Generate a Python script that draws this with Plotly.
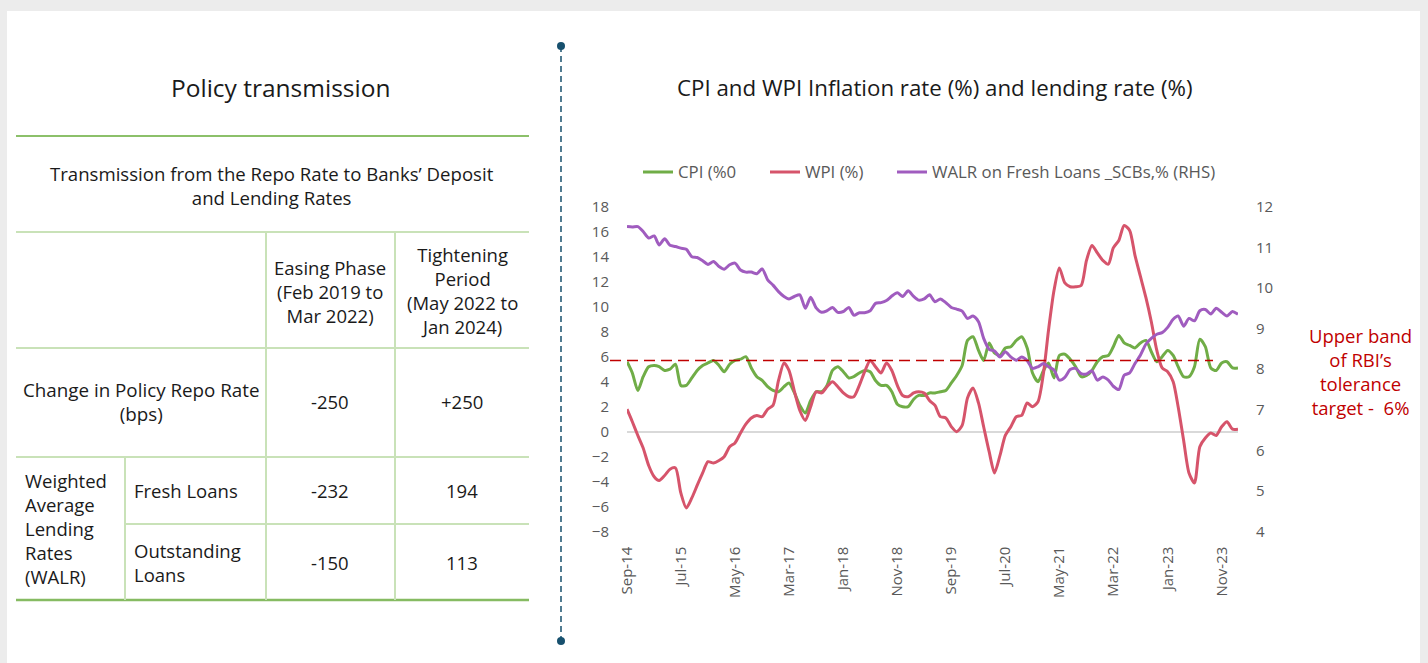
import pandas as pd
import plotly.graph_objects as go

W, H = 1428, 663

# ---------------- data ----------------
months = pd.date_range("2014-09-01", periods=114, freq="MS")

cpi = [5.6, 4.7, 3.3, 4.4, 5.2, 5.3, 5.2, 4.9, 5.0, 5.4,
       3.7, 3.7, 4.3, 4.9, 5.3, 5.5, 5.7, 5.3, 4.8, 5.4,
       5.7, 5.8, 6.0, 5.1, 4.4, 4.1, 3.6, 3.3, 3.2, 3.6,
       3.9, 3.1, 2.1, 1.5, 2.5, 3.2, 3.2, 3.7, 4.9, 5.2,
       4.8, 4.3, 4.4, 4.7, 4.9, 4.8, 4.1, 3.7, 3.7, 3.2,
       2.2, 2.0, 2.0, 2.6, 2.9, 2.9, 3.1, 3.1, 3.2, 3.3,
       3.9, 4.5, 5.3, 7.3, 7.6, 6.5, 5.7, 7.1, 6.3, 6.1,
       6.7, 6.8, 7.3, 7.6, 6.7, 4.7, 4.0, 4.9, 5.5, 4.3,
       6.1, 6.2, 5.8, 5.2, 4.4, 4.5, 4.9, 5.6, 6.0, 6.1,
       6.8, 7.7, 7.1, 6.9, 6.7, 7.1, 7.3, 6.4, 5.6, 6.0,
       6.5, 6.1, 5.2, 4.4, 4.4, 5.2, 7.4, 6.8, 5.1, 4.9,
       5.5, 5.6, 5.1, 5.1]

wpi = [1.8, 0.8, -0.3, -1.3, -2.7, -3.6, -3.9, -3.5, -3.0, -2.9,
       -4.9, -6.1, -5.3, -4.3, -3.3, -2.4, -2.5, -2.3, -2.0, -1.2,
       -0.9, -0.1, 0.6, 1.1, 1.3, 1.2, 1.8, 2.1, 4.1, 5.5,
       4.9, 3.2, 1.7, 0.9, 2.0, 3.2, 3.1, 3.6, 4.0, 3.6,
       3.1, 2.8, 2.8, 3.7, 4.8, 5.7, 5.2, 4.7, 5.5, 4.9,
       3.7, 2.9, 2.8, 3.1, 3.2, 3.1, 2.5, 2.1, 1.2, 1.1,
       0.4, 0.0, 0.5, 2.7, 3.5, 2.3, 0.4, -1.6, -3.3, -1.9,
       -0.3, 0.4, 1.2, 1.3, 2.3, 2.0, 2.4, 4.7, 8.1, 11.3,
       13.1, 11.9, 11.6, 11.6, 11.7, 13.7, 14.9, 14.3, 13.7, 13.4,
       14.7, 15.3, 16.5, 16.1, 14.1, 12.4, 10.7, 8.8, 6.5, 5.1,
       4.8, 4.0, 2.0, -0.7, -3.3, -4.1, -1.2, -0.5, -0.1, -0.3,
       0.4, 0.8, 0.2, 0.2]

walr = [11.51, 11.50, 11.51, 11.39, 11.23, 11.28, 11.06, 11.21, 11.05, 11.02,
        10.98, 10.95, 10.77, 10.75, 10.67, 10.58, 10.65, 10.53, 10.46, 10.57,
        10.61, 10.44, 10.39, 10.39, 10.35, 10.47, 10.20, 10.07, 9.91, 9.79,
        9.73, 9.79, 9.83, 9.50, 9.77, 9.51, 9.40, 9.44, 9.52, 9.40,
        9.42, 9.52, 9.33, 9.39, 9.39, 9.44, 9.62, 9.64, 9.69, 9.80,
        9.88, 9.79, 9.93, 9.79, 9.70, 9.73, 9.83, 9.66, 9.73, 9.64,
        9.52, 9.48, 9.43, 9.25, 9.31, 9.17, 8.76, 8.49, 8.45, 8.30,
        8.43, 8.30, 8.22, 8.30, 8.21, 8.02, 8.06, 8.14, 8.06, 7.98,
        7.73, 7.80, 7.99, 8.02, 7.89, 7.88, 7.96, 7.73, 7.81, 7.73,
        7.58, 7.50, 7.85, 7.91, 8.14, 8.35, 8.62, 8.76, 8.86, 8.90,
        9.03, 9.23, 9.31, 9.06, 9.25, 9.19, 9.44, 9.47, 9.36, 9.50,
        9.40, 9.31, 9.42, 9.35]

tick_labels = ["Sep-14", "Jul-15", "May-16", "Mar-17", "Jan-18", "Nov-18",
               "Sep-19", "Jul-20", "May-21", "Mar-22", "Jan-23", "Nov-23"]
threshold = 5.7

series_names = ["CPI (%0", "WPI (%)", "WALR on Fresh Loans _SCBs,% (RHS)"]

table_cols = ["Easing Phase<br>(Feb 2019 to<br>Mar 2022)",
              "Tightening<br>Period<br>(May 2022 to<br>Jan 2024)"]
repo_change = ["-250", "+250"]
fresh_loans = ["-232", "194"]
outstanding_loans = ["-150", "113"]

# ---------------- styling helpers ----------------
FONT = "Open Sans"
DARK = "#1a1a1a"
GREY = "#595959"
GREEN = "#70ad47"
RED = "#d6546b"
PURPLE = "#a05cbf"
TLINE = "#c9e2b8"


def px(x):
    return x / W


def py(y):
    return 1 - y / H


fig = go.Figure()
fig.add_trace(go.Scatter(x=months, y=cpi, name=series_names[0], mode="lines", legend="legend",
                         line=dict(color=GREEN, width=3, shape="spline", smoothing=0.7)))
fig.add_trace(go.Scatter(x=months, y=wpi, name=series_names[1], mode="lines", legend="legend2",
                         line=dict(color=RED, width=3, shape="spline", smoothing=0.7)))
fig.add_trace(go.Scatter(x=months, y=walr, name=series_names[2], mode="lines", yaxis="y2",
                         legend="legend3",
                         line=dict(color=PURPLE, width=3, shape="spline", smoothing=0.7)))

tickfont = dict(family=FONT, size=15, color=GREY)
legfont = dict(family=FONT, size=16.8, color=GREY)


def leg(x):
    return dict(orientation="h", x=px(x), y=py(172), xanchor="left", yanchor="middle",
                font=legfont, bgcolor="rgba(0,0,0,0)", itemwidth=30)


fig.update_layout(
    width=W, height=H,
    margin=dict(l=0, r=0, t=0, b=0, autoexpand=False),
    paper_bgcolor="#ececec",
    plot_bgcolor="rgba(0,0,0,0)",
    font=dict(family=FONT, color=DARK),
    xaxis=dict(domain=[px(627), px(1238)], type="date", automargin=False,
               range=[months[0], months[-1]],
               tickvals=list(months[::10]), ticktext=tick_labels,
               tickangle=-90, tickfont=tickfont, showgrid=False, showline=False,
               zeroline=False, ticks="outside", ticklen=8, tickcolor="rgba(0,0,0,0)"),
    yaxis=dict(domain=[py(531.7), py(206.7)], range=[-8, 18], dtick=2, automargin=False,
               tickfont=tickfont, showgrid=False, showline=False,
               zeroline=True, zerolinecolor="#d9d9d9", zerolinewidth=2,
               ticks="outside", ticklen=14, tickcolor="rgba(0,0,0,0)"),
    yaxis2=dict(domain=[py(531.7), py(206.7)], range=[4, 12], dtick=1, automargin=False,
                overlaying="y", side="right", anchor="x",
                tickfont=tickfont, showgrid=False, showline=False, zeroline=False,
                ticks="outside", ticklen=14, tickcolor="rgba(0,0,0,0)"),
    showlegend=True,
    legend=leg(638), legend2=leg(765), legend3=leg(892),
)

shapes = []
# card
shapes.append(dict(type="rect", xref="paper", yref="paper", x0=px(7), x1=px(1420),
                   y0=py(680), y1=py(11), fillcolor="white", line=dict(width=0), layer="below"))
# left panel title underline
shapes.append(dict(type="line", xref="paper", yref="paper", x0=px(16), x1=px(529),
                   y0=py(136), y1=py(136), line=dict(color="#8cc06a", width=2)))
# table lines
for yy in [232, 348, 457]:
    shapes.append(dict(type="line", xref="paper", yref="paper", x0=px(16), x1=px(529),
                       y0=py(yy), y1=py(yy), line=dict(color=TLINE, width=2)))
shapes.append(dict(type="line", xref="paper", yref="paper", x0=px(125), x1=px(529),
                   y0=py(524), y1=py(524), line=dict(color=TLINE, width=2)))
shapes.append(dict(type="line", xref="paper", yref="paper", x0=px(16), x1=px(529),
                   y0=py(600), y1=py(600), line=dict(color="#86bb62", width=2.5)))
for xx in [266, 395]:
    shapes.append(dict(type="line", xref="paper", yref="paper", x0=px(xx), x1=px(xx),
                       y0=py(232), y1=py(600), line=dict(color=TLINE, width=2)))
shapes.append(dict(type="line", xref="paper", yref="paper", x0=px(125), x1=px(125),
                   y0=py(457), y1=py(600), line=dict(color=TLINE, width=2)))
# separator
SEP = "#17506e"
shapes.append(dict(type="line", xref="paper", yref="paper", x0=px(561), x1=px(561),
                   y0=py(46), y1=py(641), line=dict(color=SEP, width=1.5, dash="6px,4px")))
for yy in [46, 641]:
    shapes.append(dict(type="circle", xref="paper", yref="paper",
                       x0=px(561 - 4), x1=px(561 + 4), y0=py(yy + 4), y1=py(yy - 4),
                       fillcolor=SEP, line=dict(width=0)))
# tolerance threshold
shapes.append(dict(type="line", xref="paper", yref="y", x0=px(610), x1=px(1213),
                   y0=threshold, y1=threshold, line=dict(color="#c00000", width=1.5, dash="11px,6px")))
fig.update_layout(shapes=shapes)

ann = []
TS = 18.5


def text(x, y, s, size=TS, color=DARK, align="center", xanchor="center"):
    ann.append(dict(xref="paper", yref="paper", x=px(x), y=py(y), text=s, showarrow=False,
                    font=dict(family=FONT, size=size, color=color), align=align,
                    xanchor=xanchor, yanchor="middle"))


text(280, 88, "Policy transmission", size=24.5)
text(272, 185, "Transmission from the Repo Rate to Banks’ Deposit<br>and Lending Rates", size=18.6)
text(330, 291, table_cols[0])
text(462, 290.5, table_cols[1])
text(141, 402.5, "Change in Policy Repo Rate<br>(bps)", size=18.8)
text(330, 402, repo_change[0])
text(462, 402, repo_change[1])
text(23, 528.8, "Weighted<br>Average<br>Lending<br>Rates<br>(WALR)", align="left", xanchor="left")
text(132, 490, "Fresh Loans", xanchor="left")
text(330, 490, fresh_loans[0])
text(462, 490, fresh_loans[1])
text(132, 562.5, "Outstanding<br>Loans", align="left", xanchor="left")
text(330, 562, outstanding_loans[0])
text(462, 562, outstanding_loans[1])

text(935, 88, "CPI and WPI Inflation rate (%) and lending rate (%)", size=22.3)
text(1360, 371, "Upper band<br>of RBI’s<br>tolerance<br>target -  6%", size=18.5, color="#c00000")

fig.update_layout(annotations=ann)

fig.write_html("out.html", config={"displayModeBar": False},
               post_script="document.body.style.margin='0px';")
